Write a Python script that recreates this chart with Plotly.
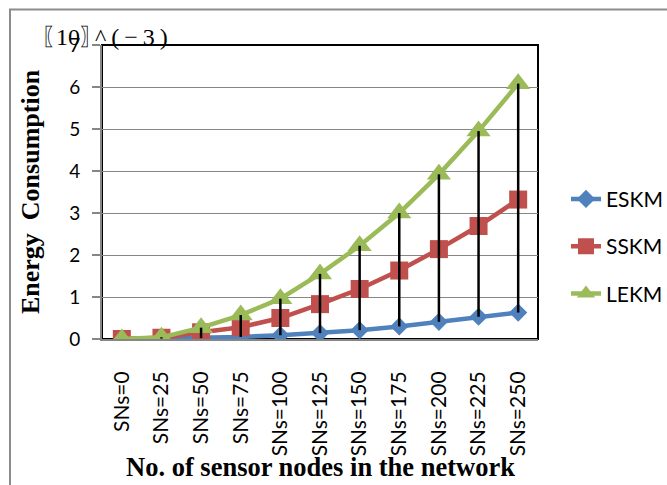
import plotly.graph_objects as go

# Network sizes (x categories)
categories = ["SNs=0", "SNs=25", "SNs=50", "SNs=75", "SNs=100", "SNs=125",
              "SNs=150", "SNs=175", "SNs=200", "SNs=225", "SNs=250"]

# Energy consumption (x 10^-3) per scheme
eskm = [0, 0.01, 0.02, 0.05, 0.09, 0.14, 0.21, 0.30, 0.41, 0.53, 0.63]
sskm = [0, 0.03, 0.16, 0.28, 0.50, 0.83, 1.19, 1.63, 2.14, 2.69, 3.32]
lekm = [0, 0.04, 0.27, 0.57, 0.96, 1.55, 2.22, 3.00, 3.92, 4.95, 6.08]

y_ticks = [0, 1, 2, 3, 4, 5, 6, 7]

BLUE = "#4F81BD"
RED = "#C0504D"
GREEN = "#9BBB59"
GRAY = "#868686"
SANS = "Lato"
SERIF = "Liberation Serif"

fig = go.Figure()

series = [
    ("ESKM", eskm, BLUE, "diamond", 14),
    ("SSKM", sskm, RED, "square", 18),
    ("LEKM", lekm, GREEN, "triangle-up", 21),
]
for name, vals, color, symbol, size in series:
    fig.add_trace(go.Scatter(
        x=categories, y=vals, name=name, mode="lines+markers",
        legendgroup=name,
        line=dict(color=color, width=4.5),
        marker=dict(symbol=symbol, size=size, color=color),
    ))

# High-low lines joining the lowest and highest series at each category
hl_x, hl_y = [], []
for i, cat in enumerate(categories):
    vals = [eskm[i], sskm[i], lekm[i]]
    hl_x += [cat, cat, None]
    hl_y += [min(vals), max(vals), None]
fig.add_trace(go.Scatter(
    x=hl_x, y=hl_y, mode="lines", showlegend=False, hoverinfo="skip",
    line=dict(color="black", width=2.5),
))

# power-of-ten label: tight brackets, spaced-out exponent
tight = "<span style='letter-spacing:-9px'>{}</span>"
wide = "<span style='letter-spacing:5px'>{}</span>"
exp_label = tight.format("〖") + "10" + tight.format("〗") + wide.format("^(−3)")

fig.update_layout(
    width=667, height=485,
    margin=dict(l=102, r=129, t=45, b=146, autoexpand=False),
    paper_bgcolor="white", plot_bgcolor="white",
    showlegend=True,
    legend=dict(
        x=1.0642, y=0.545, xanchor="left", yanchor="top",
        font=dict(family=SANS, size=21, color="black"),
        tracegroupgap=17, bgcolor="rgba(0,0,0,0)",
    ),
    xaxis=dict(
        type="category", range=[-0.5, 10.5],
        showgrid=False, showline=True, linecolor=GRAY, linewidth=2,
        ticks="", tickangle=-90,
        tickfont=dict(family=SANS, size=21, color="black"),
        ticklabelstandoff=22,
    ),
    yaxis=dict(
        range=[0, 7], tickvals=y_ticks,
        showgrid=True, gridcolor=GRAY, gridwidth=1.3,
        showline=True, linecolor=GRAY, linewidth=2,
        ticks="outside", ticklen=8, tickcolor=GRAY, tickwidth=1.5,
        tickfont=dict(family=SANS, size=19, color="black"),
        ticklabelstandoff=8, zeroline=False,
    ),
    shapes=[
        # plot-area frame (top and right edges show in black)
        dict(type="rect", xref="paper", yref="paper", x0=0, x1=1, y0=0, y1=1,
             line=dict(color="black", width=2), layer="below"),
        # chart-area border
        dict(type="rect", xref="paper", yref="paper",
             x0=-0.211, x1=2.0, y0=-1.0, y1=1.121,
             line=dict(color="#8C8C8C", width=2), layer="below"),
    ],
    annotations=[
        dict(text="<b>Energy\u00a0 Consumption</b>", textangle=-90,
             xref="paper", yref="paper", x=-0.165, y=0.5,
             xanchor="center", yanchor="middle", showarrow=False,
             font=dict(family=SERIF, size=26, color="black")),
        dict(text="<b>No. of sensor nodes in the network</b>",
             xref="paper", yref="paper", x=0.5, y=-0.436,
             xanchor="center", yanchor="middle", showarrow=False,
             font=dict(family=SERIF, size=26.5, color="black")),
        dict(text=exp_label,
             xref="paper", yref="paper", x=-0.1445, y=1.026,
             xanchor="left", yanchor="middle", showarrow=False,
             font=dict(family=SERIF, size=24, color="black")),
    ],
)

fig.write_html("out.html")
